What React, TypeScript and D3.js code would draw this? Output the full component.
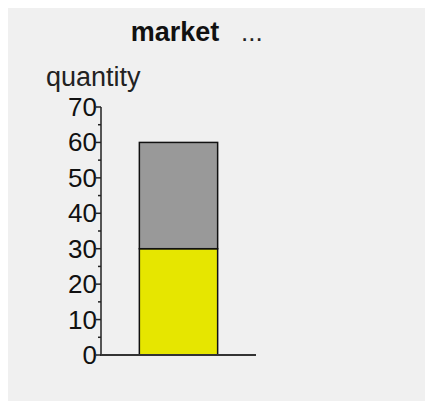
import React from "react";
import * as d3 from "d3";

const categories = ["market"];
const seriesNames = ["lower", "upper"];
const lowerValues = [30];
const upperValues = [30];
const seriesColors = ["#e6e600", "#999999"];
const yTicks = [0, 10, 20, 30, 40, 50, 60, 70];
const yMinorTicks = [5, 15, 25, 35, 45, 55, 65];
const titleText = "market";
const yAxisLabel = "quantity";

export default function App() {
  const W = 425;
  const H = 401;
  const y = d3.scaleLinear().domain([0, 70]).range([355, 107]);
  const x = d3.scaleBand<string>().domain(categories).range([101, 256]).paddingInner(0).paddingOuter(0.49);

  const table = categories.map((c, i) => ({ cat: c, lower: lowerValues[i], upper: upperValues[i] }));
  const stacked = d3.stack<any>().keys(seriesNames)(table);
  const font = "'Liberation Sans', Arial, sans-serif";

  return (
    <div style={{ position: "absolute", left: 0, top: 0, width: W, height: H, overflow: "hidden" }}>
      <style>{`html,body{overflow:hidden;}`}</style>
      <svg width={W} height={H} style={{ display: "block" }} fontFamily={font}>
        <rect x={8} y={8} width={W - 8} height={H - 8} fill="#f0f0f0" />
        <text x={175} y={40.5} textAnchor="middle" fontWeight="bold" fontSize={27} fill="#111">
          {titleText}
        </text>
        <text x={241} y={40.5} fontSize={26} fill="#222">...</text>
        <text x={46} y={86} fontSize={27} fill="#222">{yAxisLabel}</text>

        {stacked.map((s, si) =>
          s.map((d, i) => (
            <rect
              key={`${si}-${i}`}
              x={x(categories[i])!}
              y={y(d[1])}
              width={x.bandwidth()}
              height={y(d[0]) - y(d[1])}
              fill={seriesColors[si]}
              stroke="#111"
              strokeWidth={1.5}
            />
          ))
        )}

        <line x1={101} x2={101} y1={y(70)} y2={y(0)} stroke="#222" strokeWidth={1.5} />
        <line x1={100} x2={256} y1={y(0)} y2={y(0)} stroke="#333" strokeWidth={2} />
        {yTicks.map((t) => (
          <g key={t}>
            <line x1={96} x2={101} y1={y(t)} y2={y(t)} stroke="#222" strokeWidth={1.5} />
            <text x={97} y={y(t) + 9} textAnchor="end" fontSize={26} fill="#111">
              {t}
            </text>
          </g>
        ))}
        {yMinorTicks.map((t) => (
          <line key={t} x1={98} x2={101} y1={y(t)} y2={y(t)} stroke="#222" strokeWidth={1.5} />
        ))}
      </svg>
    </div>
  );
}
